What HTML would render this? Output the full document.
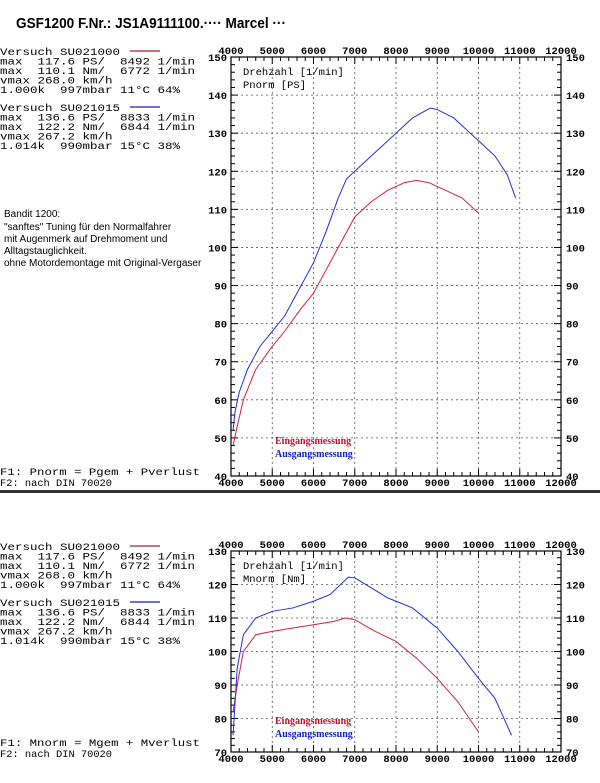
<!DOCTYPE html>
<html><head><meta charset="utf-8"><style>
html,body{margin:0;padding:0;background:#fff;width:600px;height:783px;overflow:hidden}
svg{display:block}
text{white-space:pre}
.m{font-family:"Liberation Mono",monospace;font-size:10.5px;fill:#000}
.t{font-family:"Liberation Mono",monospace;font-size:10.5px;font-weight:bold;fill:#000}
.s{font-family:"Liberation Sans",sans-serif;font-size:10px;fill:#000}
.g{font-family:"Liberation Serif",serif;font-size:10px;font-weight:bold}
</style></head><body>
<svg id="svg" width="600" height="783" xmlns="http://www.w3.org/2000/svg">
<text x="16" y="28" font-family="Liberation Sans,sans-serif" font-weight="bold" font-size="15" textLength="270" lengthAdjust="spacingAndGlyphs">GSF1200 F.Nr.: JS1A9111100.···· Marcel ···</text>
<text class="s" x="4" y="217">Bandit 1200:</text>
<text class="s" x="4" y="230">"sanftes" Tuning für den Normalfahrer</text>
<text class="s" x="4" y="242">mit Augenmerk auf Drehmoment und</text>
<text class="s" x="4" y="254">Alltagstauglichkeit.</text>
<text class="s" x="4" y="266">ohne Motordemontage mit Original-Vergaser</text>
<text class="m" x="0" y="475" textLength="200" lengthAdjust="spacingAndGlyphs">F1: Pnorm = Pgem + Pverlust</text>
<text class="m" x="0" y="486" textLength="112" lengthAdjust="spacingAndGlyphs">F2: nach DIN 70020</text>
<rect x="0" y="490" width="600" height="3" fill="#333"/>
<text class="m" x="0" y="746" textLength="200" lengthAdjust="spacingAndGlyphs">F1: Mnorm = Mgem + Mverlust</text>
<text class="m" x="0" y="757" textLength="112" lengthAdjust="spacingAndGlyphs">F2: nach DIN 70020</text>
</svg>
<script>
const NS="http://www.w3.org/2000/svg",svg=document.getElementById('svg');
function el(t,a,txt){const e=document.createElementNS(NS,t);for(const k in a)e.setAttribute(k,a[k]);if(txt!=null)e.textContent=txt;svg.appendChild(e);return e;}
function block(y0){
 const L=[["Versuch SU021000",0],["max  117.6 PS/  8492 1/min"],["max  110.1 Nm/  6772 1/min"],["vmax 268.0 km/h"],["1.000k  997mbar 11°C 64%"],
 ["Versuch SU021015",1],["max  136.6 PS/  8833 1/min"],["max  122.2 Nm/  6844 1/min"],["vmax 267.2 km/h"],["1.014k  990mbar 15°C 38%"]];
 const ys=[0,9.5,19,28.5,38,56,65.5,75,84.5,94];
 L.forEach((l,i)=>{el('text',{class:'m',x:0,y:y0+ys[i],textLength:l[0].length*7.5,lengthAdjust:'spacingAndGlyphs'},l[0]);
  if(l.length>1)el('line',{x1:130,x2:160,y1:y0+ys[i]-4,y2:y0+ys[i]-4,stroke:l[1]?'#4040c0':'#c04060','stroke-width':1.5});});
}
block(55);block(550);
function chart(top,bot,ymin,ymax,step,label,red,blue,legY){
 const X0=231,X1=561,fx=r=>X0+(r-4000)/8000*(X1-X0),fy=v=>bot-(v-ymin)/(ymax-ymin)*(bot-top);
 for(let r=5000;r<12000;r+=1000)el('line',{x1:fx(r),x2:fx(r),y1:top,y2:bot,stroke:'#555','stroke-dasharray':'2,3','stroke-width':0.8});
 for(let v=ymin+step;v<ymax;v+=step)el('line',{x1:X0,x2:X1,y1:fy(v),y2:fy(v),stroke:'#555','stroke-dasharray':'2,3','stroke-width':0.8});
 el('rect',{x:X0,y:top,width:X1-X0,height:bot-top,fill:'none',stroke:'#000','stroke-width':1.2});
 for(let r=4000;r<=12000;r+=200){const l=r%1000==0?7:4;el('line',{x1:fx(r),x2:fx(r),y1:top,y2:top+l,stroke:'#000'});el('line',{x1:fx(r),x2:fx(r),y1:bot,y2:bot-l,stroke:'#000'});}
 for(let v=ymin;v<=ymax;v+=2){const l=v%step==0?7:4;el('line',{x1:X0,x2:X0+l,y1:fy(v),y2:fy(v),stroke:'#000'});el('line',{x1:X1,x2:X1-l,y1:fy(v),y2:fy(v),stroke:'#000'});}
 for(let r=4000;r<=12000;r+=1000){el('text',{class:'t',x:fx(r),y:top-3,'text-anchor':'middle'},r);el('text',{class:'t',x:fx(r),y:bot+10,'text-anchor':'middle'},r);}
 for(let v=ymin;v<=ymax;v+=step){el('text',{class:'t',x:227,y:fy(v)+4,'text-anchor':'end'},v);el('text',{class:'t',x:566,y:fy(v)+4},v);}
 el('text',{class:'m',x:243,y:top+18},'Drehzahl [1/min]');
 el('text',{class:'m',x:243,y:top+31},label);
 const pl=(d,c)=>el('polyline',{points:d.map(p=>fx(p[0])+','+fy(p[1])).join(' '),fill:'none',stroke:c,'stroke-width':1});
 pl(red,'#d02040');pl(blue,'#2030d0');
 el('text',{class:'g',x:275,y:legY,fill:'#c01030'},'Eingangsmessung');
 el('text',{class:'g',x:275,y:legY+13,fill:'#1020c0'},'Ausgangsmessung');
}
chart(57,476,40,150,10,'Pnorm [PS]',
[[4050,48],[4150,53],[4300,60],[4600,68],[5000,74],[5300,78],[5700,84],[6000,88],[6300,94],[6700,102],[7000,108],[7400,112],[7800,115],[8200,117],[8500,117.6],[8800,117],[9200,115],[9600,113],[10000,109]],
[[4050,52],[4100,57],[4200,62],[4400,68],[4700,74],[5000,78],[5300,82],[5600,88],[6000,96],[6300,104],[6600,113],[6800,118],[7200,122],[7600,126],[8000,130],[8400,134],[8833,136.6],[9000,136.2],[9400,134],[9800,130],[10000,128],[10400,124],[10700,119],[10900,113]],444);
chart(551,752,70,130,10,'Mnorm [Nm]',
[[4050,82],[4150,90],[4300,100],[4600,105],[5000,106],[5500,107],[6000,108],[6500,109],[6772,110],[7000,109.5],[7500,106],[8000,103],[8500,98],[9000,92],[9500,85],[10000,76]],
[[4050,75],[4150,95],[4300,105],[4600,110],[5000,112],[5500,113],[6000,115],[6400,117],[6844,122.2],[7000,122],[7400,119],[7800,116],[8400,113],[9000,107],[9500,100],[10000,92],[10400,86],[10800,75]],724);
</script>
</body></html>
